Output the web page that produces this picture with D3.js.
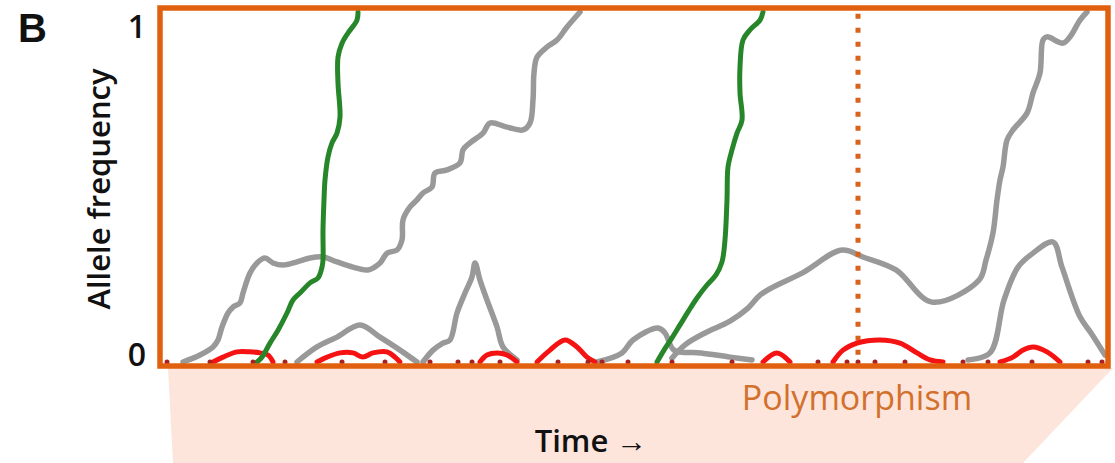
<!DOCTYPE html>
<html>
<head>
<meta charset="utf-8">
<script src="https://cdn.jsdelivr.net/npm/d3@7"></script>
<style>
  body { margin: 0; background: #fff; }
  svg { display: block; }
</style>
</head>
<body>
<div id="chart"></div>
<script>
// [time (generations), allele frequency]
// neutral alleles drifting (grey)
const grey1 = [[23,0],[40,0.02],[53,0.043],[58,0.063],[62,0.1],[68,0.14],[73,0.157],[80,0.169],[83,0.197],[90,0.254],[97,0.283],[105,0.297],[113,0.283],[123,0.277],[137,0.286],[150,0.297],[163,0.3],[177,0.286],[193,0.271],[208,0.263],[220,0.283],[227,0.311],[237,0.32],[242,0.349],[243,0.406],[250,0.443],[257,0.463],[263,0.483],[272,0.5],[275,0.54],[287,0.549],[300,0.569],[303,0.606],[310,0.626],[323,0.654],[330,0.683],[347,0.671],[363,0.663],[370,0.683],[373,0.749],[374,0.826],[377,0.871],[387,0.9],[397,0.92],[407,0.957],[420,1]];
const grey2 = [[137,0],[157,0.043],[177,0.071],[200,0.106],[220,0.071],[240,0.034],[257,0]];
const grey3 = [[263,0],[273,0.034],[283,0.054],[290,0.063],[297,0.14],[305,0.197],[312,0.243],[315,0.283],[320,0.234],[327,0.177],[337,0.1],[343,0.043],[357,0.006]];
const grey4 = [[437,0],[462,0.026],[473,0.063],[498,0.097],[505,0.083],[514,0.034],[541,0.026],[570,0.014],[592,0.006]];
const grey5 = [[512,0.011],[525,0.049],[545,0.083],[570,0.117],[588,0.154],[600,0.191],[613,0.214],[642,0.254],[682,0.32],[703,0.3],[736,0.263],[772,0.171],[819,0.234],[826,0.291],[833,0.369],[837,0.463],[840,0.52],[843,0.557],[847,0.634],[853,0.663],[867,0.711],[873,0.769],[880,0.826],[883,0.92],[887,0.929],[903,0.911],[910,0.929],[920,0.977],[927,1]];
const grey6 = [[808,0.006],[830,0.026],[844,0.177],[858,0.271],[873,0.311],[893,0.343],[902,0.271],[920,0.129],[931,0.083],[945,0.02]];

// deleterious alleles (red)
const red1 = [[53,0],[63,0.014],[77,0.029],[90,0.029],[100,0.026],[108,0.02],[113,0]];
const red2 = [[157,0],[167,0.014],[180,0.026],[193,0.026],[203,0.014],[213,0.026],[227,0.029],[235,0.014],[240,0]];
const red3 = [[320,0],[327,0.02],[337,0.026],[347,0.02],[357,0]];
const red4 = [[377,0],[390,0.034],[405,0.063],[417,0.043],[427,0.014],[435,0]];
const red5 = [[603,0],[617,0.026],[630,0]];
const red6 = [[673,0],[683,0.034],[697,0.054],[720,0.063],[740,0.054],[757,0.026],[770,0.006],[783,0]];
const red7 = [[840,0],[853,0.014],[863,0.034],[873,0.043],[887,0.029],[900,0]];

// advantageous alleles sweeping to fixation (green)
const green1 = [[97,0],[102,0.014],[110,0.054],[118,0.091],[127,0.14],[133,0.177],[140,0.197],[150,0.226],[158,0.24],[162,0.271],[163,0.291],[163,0.377],[164,0.463],[165,0.52],[168,0.586],[172,0.626],[177,0.654],[180,0.7],[178,0.797],[178,0.871],[182,0.911],[188,0.94],[197,0.977],[198,1]];
const green2 = [[497,0],[504,0.034],[512,0.069],[520,0.106],[528,0.143],[537,0.183],[547,0.22],[556,0.249],[562,0.286],[565,0.349],[567,0.463],[568,0.557],[572,0.606],[577,0.654],[582,0.691],[580,0.769],[580,0.843],[583,0.92],[590,0.949],[600,0.977],[603,1]];

// mutations lost right after they appear
const lostMutations = [7,50,93,125,182,225,270,298,312,340,398,428,442,468,512,572,658,687,698,715,745,803,828,872,928,942];
const polymorphismTime = 698;
const yTicks = [0, 1];

const width = 1115, height = 463;
const svg = d3.select("#chart").append("svg")
  .attr("width", width).attr("height", height);

const x = d3.scaleLinear().domain([0, 948]).range([160, 1108]);
const y = d3.scaleLinear().domain([0, 1]).range([362, 12]);

// pink band under the box
svg.append("path")
  .attr("d", "M168,368 L1113,368 L1023,463 L173,463 Z")
  .attr("fill", "#fde5dc");

const line = d3.line()
  .x(d => x(d[0]))
  .y(d => y(d[1]))
  .curve(d3.curveCatmullRom.alpha(0.5));

function drawRuns(runs, color, w) {
  svg.append("g").selectAll("path")
    .data(runs)
    .join("path")
    .attr("d", line)
    .attr("fill", "none")
    .attr("stroke", color)
    .attr("stroke-width", w)
    .attr("stroke-linecap", "round")
    .attr("stroke-linejoin", "round");
}

drawRuns([grey1, grey2, grey3, grey4, grey5, grey6], "#999999", 5.5);

// polymorphism marker
svg.append("line")
  .attr("x1", x(polymorphismTime)).attr("x2", x(polymorphismTime))
  .attr("y1", y(0.995)).attr("y2", y(0.02))
  .attr("stroke", "#d9621c")
  .attr("stroke-width", 5)
  .attr("stroke-dasharray", "5,9");

drawRuns([red1, red2, red3, red4, red5, red6, red7], "#f51212", 5);
drawRuns([green1, green2], "#27862a", 5);

svg.append("g").selectAll("circle")
  .data(lostMutations)
  .join("circle")
  .attr("cx", d => x(d))
  .attr("cy", y(0))
  .attr("r", 2.5)
  .attr("fill", "#a82020");

// box
svg.append("rect")
  .attr("x", 160).attr("y", 8)
  .attr("width", 948).attr("height", 358)
  .attr("fill", "none")
  .attr("stroke", "#e0600f")
  .attr("stroke-width", 5.5);

// y axis: only 0 and 1
const yAxis = svg.append("g")
  .attr("transform", "translate(160,0)")
  .call(d3.axisLeft(y).tickValues(yTicks).tickSize(0).tickPadding(14).tickFormat(d3.format("d")));
yAxis.select(".domain").remove();
yAxis.selectAll("text")
  .attr("font-family", "Open Sans")
  .attr("font-weight", 600)
  .attr("font-size", 32)
  .attr("fill", "#111")
  .attr("y", d => d === 1 ? 15 : -7);

svg.append("text")
  .attr("x", 18).attr("y", 42)
  .attr("font-family", "Liberation Sans")
  .attr("font-weight", "bold")
  .attr("font-size", 40)
  .attr("fill", "#111")
  .text("B");

svg.append("text")
  .attr("transform", "translate(110,189) rotate(-90)")
  .attr("text-anchor", "middle")
  .attr("font-family", "Open Sans")
  .attr("font-weight", 600)
  .attr("font-size", 31)
  .attr("fill", "#111")
  .text("Allele frequency");

svg.append("text")
  .attr("x", 857).attr("y", 410)
  .attr("text-anchor", "middle")
  .attr("font-family", "Open Sans")
  .attr("font-size", 34)
  .attr("fill", "#d2702c")
  .text("Polymorphism");

svg.append("text")
  .attr("x", 591).attr("y", 452)
  .attr("text-anchor", "middle")
  .attr("font-family", "Open Sans")
  .attr("font-weight", 600)
  .attr("font-size", 31)
  .attr("fill", "#111")
  .text("Time \u2192");
</script>
</body>
</html>
